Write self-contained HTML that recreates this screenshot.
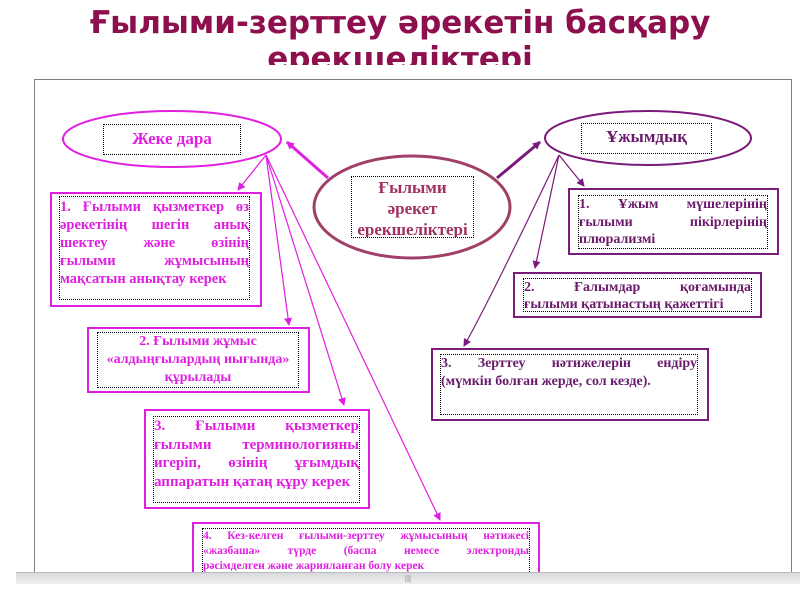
<!DOCTYPE html>
<html><head><meta charset="utf-8"><style>
body{margin:0;width:800px;height:600px;overflow:hidden;background:#fff;position:relative;font-family:"Liberation Serif",serif}
.t{position:absolute;left:0;width:800px;text-align:center;font-family:"DejaVu Sans","Liberation Sans",sans-serif;font-weight:bold;font-size:31px;color:#8e0f4e;}
.bx{position:absolute;box-sizing:border-box;}
.in{position:absolute;box-sizing:border-box;border:1px dotted #000;font-weight:bold;text-align:justify;text-align-last:justify;overflow:hidden;white-space:nowrap}
.in p{margin:0}
.l{text-align-last:left}
</style></head><body>
<div class="t" style="top:3px;line-height:40px">Ғылыми-зерттеу әрекетін басқару</div>
<div style="position:absolute;top:40px;left:0;width:800px;height:25px;overflow:hidden"><div class="t" style="top:-1px;line-height:40px">ерекшеліктері</div></div>
<svg width="800" height="600" style="position:absolute;left:0;top:0">
<defs>
<marker id="m" markerWidth="8" markerHeight="8" refX="7" refY="4" orient="auto" markerUnits="userSpaceOnUse"><path d="M0,0 L8,4 L0,8z" fill="#e020e0"/></marker>
<marker id="p" markerWidth="8" markerHeight="8" refX="7" refY="4" orient="auto" markerUnits="userSpaceOnUse"><path d="M0,0 L8,4 L0,8z" fill="#7a1a7a"/></marker>
</defs>
<rect x="34.5" y="79.5" width="757" height="494" fill="none" stroke="#000" stroke-dasharray="1,1"/>
<ellipse cx="172" cy="139" rx="109" ry="28" fill="none" stroke="#e020e0" stroke-width="2"/>
<ellipse cx="648" cy="138" rx="103" ry="27" fill="none" stroke="#7a1a7a" stroke-width="2"/>
<ellipse cx="412" cy="207" rx="98" ry="51" fill="none" stroke="#a04068" stroke-width="3"/>
<g stroke="#e020e0" stroke-width="1.2" fill="none" marker-end="url(#m)">
<line x1="328" y1="178" x2="287" y2="142" stroke-width="3"/>
<line x1="266" y1="155" x2="238" y2="190"/>
<line x1="266" y1="155" x2="289" y2="325"/>
<line x1="266" y1="155" x2="344" y2="405"/>
<line x1="266" y1="155" x2="440" y2="520"/>
</g>
<g stroke="#7a1a7a" stroke-width="1.2" fill="none" marker-end="url(#p)">
<line x1="497" y1="178" x2="540" y2="142" stroke-width="3"/>
<line x1="559" y1="155" x2="584" y2="186"/>
<line x1="559" y1="155" x2="535" y2="268"/>
<path d="M559 155 Q490 300 464 346"/>
</g>
</svg>
<div class="in" style="left:103px;top:124px;width:138px;height:31px;color:#e020e0;font-size:17px;text-align:center;text-align-last:center;line-height:28px">Жеке дара</div>
<div class="in" style="left:581px;top:123px;width:131px;height:31px;color:#6a1a6a;font-size:17px;text-align:center;text-align-last:center;line-height:26px">Ұжымдық</div>
<div class="in" style="left:351px;top:176px;width:123px;height:62px;color:#a03060;font-size:17px;text-align:center;text-align-last:center;line-height:21px">Ғылыми<br>әрекет<br>ерекшеліктері</div>

<div class="bx" style="left:50px;top:192px;width:212px;height:115px;border:2px solid #e020e0"></div>
<div class="in" style="left:59px;top:196px;width:191px;height:104px;color:#e020e0;font-size:14.5px;line-height:18px;padding-top:1px"><p>1. Ғылыми қызметкер өз<br>әрекетінің шегін анық<br>шектеу және өзінің<br>ғылыми жұмысының<br></p><p class="l">мақсатын анықтау керек</p></div>

<div class="bx" style="left:87px;top:327px;width:223px;height:66px;border:2px solid #e020e0"></div>
<div class="in" style="left:97px;top:332px;width:202px;height:56px;color:#e020e0;font-size:14px;line-height:18px;text-align:center;text-align-last:center">2. Ғылыми жұмыс<br>«алдыңғылардың иығында»<br>құрылады</div>

<div class="bx" style="left:144px;top:409px;width:226px;height:100px;border:2px solid #e020e0"></div>
<div class="in" style="left:153px;top:416px;width:207px;height:87px;color:#e020e0;font-size:15px;line-height:18.5px"><p>3. Ғылыми қызметкер<br>ғылыми терминологияны<br>игеріп, өзінің ұғымдық<br></p><p class="l">аппаратын қатаң құру керек</p></div>

<div class="bx" style="left:192px;top:522px;width:348px;height:60px;border:2px solid #e020e0;border-bottom:none"></div>
<div class="in" style="left:202px;top:528px;width:328px;height:44px;color:#e020e0;font-size:11.5px;line-height:15px;border-bottom:none"><p>4. Кез-келген ғылыми-зерттеу жұмысының нәтижесі<br>«жазбаша» түрде (баспа немесе электронды<br></p><p class="l">рәсімделген және жарияланған болу керек</p></div>

<div class="bx" style="left:568px;top:188px;width:211px;height:67px;border:2px solid #7a1a7a"></div>
<div class="in" style="left:578px;top:195px;width:190px;height:54px;color:#6a1a6a;font-size:14px;line-height:17.5px"><p>1. Ұжым мүшелерінің<br>ғылыми пікірлерінің<br></p><p class="l">плюрализмі</p></div>

<div class="bx" style="left:513px;top:272px;width:249px;height:46px;border:2px solid #7a1a7a"></div>
<div class="in" style="left:523px;top:278px;width:229px;height:34px;color:#6a1a6a;font-size:14px;line-height:17px"><p>2. Ғалымдар қоғамында<br></p><p class="l">ғылыми қатынастың қажеттігі</p></div>

<div class="bx" style="left:431px;top:348px;width:278px;height:73px;border:2px solid #7a1a7a"></div>
<div class="in" style="left:440px;top:354px;width:258px;height:61px;color:#6a1a6a;font-size:14px;line-height:18px"><p>3. Зерттеу нәтижелерін ендіру<br></p><p class="l">(мүмкін болған жерде, сол кезде).</p></div>

<div style="position:absolute;left:16px;top:572px;width:784px;height:11px;background:linear-gradient(#d8dadc,#eef0f2);border-top:1px solid #b8bcc0;font-size:8px;text-align:center;color:#888;line-height:11px;font-family:'Liberation Sans',sans-serif">|||</div>
</body></html>
